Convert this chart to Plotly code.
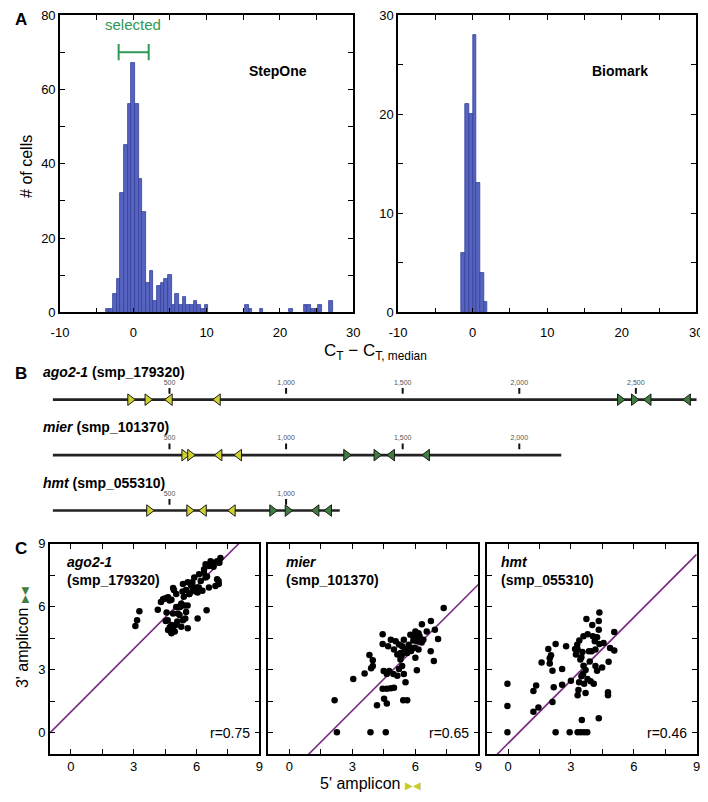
import plotly.graph_objects as go

W, H = 708, 802
OFF = 8  # page body margin compensation (px)
FONT = "Liberation Sans, Arial, Helvetica, sans-serif"

# ---------------- Panel A data ----------------
step_x = [-3.5, -3.0, -2.5, -2.0, -1.5, -1.0, -0.5, 0.0, 0.5, 1.0, 1.5, 2.0, 2.5, 3.0, 3.5,
          4.0, 4.5, 5.0, 5.5, 6.0, 6.5, 7.0, 7.5, 8.0, 8.5, 9.0, 9.5, 10.0,
          15.5, 16.0, 17.5, 21.5, 23.5, 24.0, 24.5, 25.0, 25.5, 27.0]
step_n = [1, 1, 5, 9, 32, 45, 56, 67, 56, 36, 27, 8, 11, 3, 7,
          8, 9, 10, 2, 5, 2, 4, 2, 2, 3, 2, 1, 2,
          2, 1, 1, 1, 2, 2, 1, 1, 2, 3]
bio_x = [-1.25, -0.75, -0.25, 0.25, 0.75, 1.25, 1.75]
bio_n = [6, 21, 20, 28, 13, 4, 1]
bin_width = 0.5
selected_range = [-2.0, 2.1]

# ---------------- Panel B data ----------------
genes = ["ago2-1", "mier", "hmt"]
gene_ids = ["smp_179320", "smp_101370", "smp_055310"]
gene_len = [2760, 2180, 1230]
fwd_yellow = [[332, 406], [564, 589], [413, 585]]
rev_yellow = [[501, 707], [714, 798], [647, 771]]
fwd_green = [[2432, 2492], [1258, 1388], [941, 1007]]
rev_green = [[2554, 2723], [1454, 1604], [1130, 1184]]
scale_step = 500

# ---------------- Panel C data ----------------
ago_x = [3.08, 3.16, 3.27, 4.15, 4.30, 4.46, 4.64, 4.80, 4.92, 4.88, 5.03, 4.57, 4.62, 4.53,
         4.72, 4.88, 4.80, 4.96, 5.08, 5.19, 4.88, 5.03, 5.27, 5.42, 5.39, 5.50, 5.35, 5.58,
         5.74, 5.66, 5.81, 5.97, 5.89, 6.12, 6.20, 6.36, 6.43, 6.59, 6.67, 6.82, 6.98, 7.14,
         6.98, 7.06, 6.90, 6.59, 6.43, 6.28, 6.05, 6.48, 6.05, 5.58, 5.35, 5.27, 5.50, 5.11,
         4.64, 4.80, 4.71, 5.00, 5.33, 5.46, 5.57, 5.65, 5.80, 5.96, 6.11, 6.35, 6.50, 6.81,
         7.09, 7.05, 4.40, 4.56, 5.21]
ago_y = [5.09, 5.37, 5.79, 5.87, 6.23, 6.39, 6.46, 6.34, 6.81, 6.90, 6.62, 5.73, 5.37, 5.33,
         5.03, 4.90, 4.75, 4.83, 5.30, 5.61, 5.69, 6.00, 6.15, 6.07, 6.49, 6.81, 7.09, 7.17,
         7.01, 6.62, 6.77, 6.93, 7.40, 7.55, 7.24, 7.79, 8.03, 7.95, 8.18, 8.10, 8.18, 8.33,
         7.32, 7.09, 7.00, 6.93, 7.40, 6.77, 6.69, 5.84, 5.45, 4.98, 5.37, 5.06, 5.76, 5.69,
         4.90, 5.14, 6.31, 5.14, 6.73, 5.45, 6.07, 6.62, 7.17, 6.73, 6.93, 7.63, 7.45, 7.91,
         8.10, 7.24, 6.36, 6.42, 6.00]
mier_x = [7.35, 6.74, 6.31, 6.93, 7.08, 6.73, 6.88, 6.54, 6.38, 6.15, 6.00, 5.92, 6.07, 6.15,
          6.00, 6.07, 5.76, 5.68, 5.61, 5.45, 5.37, 5.29, 5.22, 5.14, 5.06, 4.98, 5.29, 5.37,
          5.22, 5.45, 5.53, 5.14, 4.95, 4.75, 4.64, 4.49, 4.44, 4.44, 4.70, 4.83, 3.81, 3.97,
          3.97, 3.89, 3.58, 3.04, 4.44, 4.64, 4.83, 4.98, 4.51, 4.64, 4.17, 5.42, 5.61, 2.15,
          2.26, 3.86, 4.59, 5.70, 5.90, 6.20, 6.30, 5.50, 5.80, 5.95, 5.35, 6.10]
mier_y = [5.95, 5.33, 5.17, 4.91, 4.47, 3.89, 3.43, 4.83, 4.44, 4.75, 4.83, 4.59, 4.36, 3.97,
          3.58, 2.99, 4.67, 4.20, 3.81, 4.44, 4.13, 3.81, 4.21, 3.74, 4.36, 3.97, 3.50, 3.19,
          3.04, 2.80, 2.41, 2.72, 2.80, 2.95, 2.80, 2.95, 4.70, 4.24, 4.13, 4.44, 3.71, 3.46,
          3.19, 3.08, 2.83, 2.57, 2.10, 2.10, 2.13, 2.15, 1.63, 1.40, 1.32, 1.56, 1.56, 1.56,
          0.03, 0.03, 0.03, 4.10, 4.40, 4.60, 4.30, 4.00, 3.90, 4.05, 3.70, 4.55]
hmt_x = [4.36, 3.74, 4.33, 4.02, 4.33, 5.07, 4.05, 4.25, 4.14, 4.36, 2.27, 2.77, 1.92, 3.32,
         4.56, 4.17, 4.87, 5.07, 3.86, 3.24, 3.99, 1.99, 1.60, 1.99, 2.12, 2.58, 4.17, 4.49,
         4.80, 4.25, 3.58, 3.79, 3.94, 4.09, 3.63, 3.39, 3.00, 2.58, 2.18, 1.34, 1.21, -0.03,
         3.36, 3.70, 3.32, 4.77, 4.77, -0.03, 1.45, 1.21, 2.12, 3.52, 4.33, -0.03, 2.27, 2.94,
         3.32, 3.47, 3.63, 3.78, 3.30, 3.40, 3.60, 3.80, 3.50, 3.60, 3.70, 3.90, 3.20, 3.50,
         2.05, 3.45, 3.55]
hmt_y = [5.73, 5.42, 5.33, 5.14, 4.91, 4.80, 4.60, 4.56, 4.36, 4.24, 4.24, 4.13, 4.00, 3.97,
         4.28, 3.97, 4.04, 3.92, 3.89, 3.74, 3.89, 3.55, 3.35, 3.30, 2.96, 3.04, 3.19, 3.12,
         3.39, 2.96, 2.80, 2.57, 2.46, 2.34, 2.34, 2.41, 2.49, 2.29, 2.18, 2.26, 2.00, 2.34,
         2.04, 1.90, 1.79, 1.94, 1.79, 1.28, 1.21, 1.01, 1.47, 0.62, 0.70, 0.03, 0.03, 0.03,
         0.03, 0.03, 0.03, 0.03, 4.20, 4.40, 4.60, 4.70, 3.60, 3.20, 3.00, 3.40, 4.00, 2.70,
         3.70, 3.50, 3.85]
fit_intercept = [1.0, -1.93, -0.5]
r_values = ["r=0.75", "r=0.65", "r=0.46"]
scatter_ticks = [0, 1.5, 3, 4.5, 6, 7.5, 9]
scatter_ticktext = ["0", "", "3", "", "6", "", "9"]


def px_x(a, b):
    return [(a - OFF) / W, (b - OFF) / W]


def px_y(top, bottom):
    return [1 - (bottom - OFF) / H, 1 - (top - OFF) / H]


def pap_x(p):
    return (p - OFF) / W


def pap_y(p):
    return 1 - (p - OFF) / H


fig = go.Figure()

bar_fill = "#5664c0"
bar_line = "#33409a"
fig.add_trace(go.Bar(x=step_x, y=step_n, width=bin_width, marker=dict(color=bar_fill, line=dict(color=bar_line, width=0.8)),
                     xaxis="x", yaxis="y", showlegend=False))
fig.add_trace(go.Bar(x=bio_x, y=bio_n, width=bin_width, marker=dict(color=bar_fill, line=dict(color=bar_line, width=0.8)),
                     xaxis="x2", yaxis="y2", showlegend=False))

# selected bracket
green_sel = "#2e9a55"
sel_y = 70
fig.add_trace(go.Scatter(x=[selected_range[0], selected_range[1], None, selected_range[0], selected_range[0], None,
                            selected_range[1], selected_range[1]],
                         y=[sel_y, sel_y, None, sel_y - 2.2, sel_y + 2.2, None, sel_y - 2.2, sel_y + 2.2],
                         mode="lines", line=dict(color=green_sel, width=2), xaxis="x", yaxis="y",
                         showlegend=False, hoverinfo="skip"))

# ---------------- Panel B traces ----------------
rows = list(range(len(genes)))
line_x, line_y = [], []
tick_x, tick_y, lab_x, lab_y, lab_t = [], [], [], [], []
for r, L in zip(rows, gene_len):
    line_x += [0, L, None]
    line_y += [r, r, None]
    v = scale_step
    while v < L:
        tick_x += [v, v, None]
        tick_y += [r - 0.105, r - 0.21, None]
        lab_x.append(v)
        lab_y.append(r - 0.30)
        lab_t.append(f"{v:,}")
        v += scale_step
fig.add_trace(go.Scatter(x=line_x, y=line_y, mode="lines", line=dict(color="#222222", width=2.6),
                         xaxis="x3", yaxis="y3", showlegend=False, hoverinfo="skip"))
fig.add_trace(go.Scatter(x=tick_x, y=tick_y, mode="lines", line=dict(color="#111111", width=2),
                         xaxis="x3", yaxis="y3", showlegend=False, hoverinfo="skip"))
fig.add_trace(go.Scatter(x=lab_x, y=lab_y, mode="text", text=lab_t,
                         textfont=dict(size=7, color="#555555", family=FONT),
                         xaxis="x3", yaxis="y3", showlegend=False, hoverinfo="skip"))

yellow = "#cfd12c"
green = "#3f7d3f"


def add_arrows(pos_lists, symbol, color):
    xs, ys = [], []
    for r, pl in zip(rows, pos_lists):
        xs += pl
        ys += [r] * len(pl)
    fig.add_trace(go.Scatter(x=xs, y=ys, mode="markers",
                             marker=dict(symbol=symbol, size=10, color=color, line=dict(color="#1a1a1a", width=1)),
                             xaxis="x3", yaxis="y3", showlegend=False, hoverinfo="skip"))


add_arrows(fwd_yellow, "triangle-right", yellow)
add_arrows(rev_yellow, "triangle-left", yellow)
add_arrows(fwd_green, "triangle-right", green)
add_arrows(rev_green, "triangle-left", green)

# ---------------- Panel C traces ----------------
sc_data = [(ago_x, ago_y), (mier_x, mier_y), (hmt_x, hmt_y)]
for i, ((xs, ys), b) in enumerate(zip(sc_data, fit_intercept)):
    ax = str(4 + i)
    fig.add_trace(go.Scatter(x=[-1, 9], y=[-1 + b, 9 + b], mode="lines", line=dict(color="#7b2c84", width=1.6),
                             xaxis="x" + ax, yaxis="y" + ax, showlegend=False, hoverinfo="skip"))
    fig.add_trace(go.Scatter(x=xs, y=ys, mode="markers", marker=dict(color="black", size=6.5),
                             xaxis="x" + ax, yaxis="y" + ax, showlegend=False))

# ---------------- Axes ----------------
axis_common = dict(showline=True, linecolor="black", linewidth=1.6, mirror="ticks", ticks="inside",
                   ticklen=5, tickwidth=1.3, tickcolor="black", showgrid=False, zeroline=False,
                   ticklabeloverflow="allow",
                   tickfont=dict(family=FONT, size=13, color="black"))

hx_vals = list(range(-10, 31, 5))
hx_text = [str(v) if v % 10 == 0 else "" for v in hx_vals]

gx0, gscale = 44.7, 0.2386  # gene-map origin pixel and px per nt
layout = dict(
    width=W, height=H, margin=dict(l=0, r=0, t=0, b=0), plot_bgcolor="white", paper_bgcolor="white",
    bargap=0, font=dict(family=FONT, color="black"),
    xaxis=dict(domain=px_x(52, 352), range=[-10, 30], tickvals=hx_vals, ticktext=hx_text, anchor="y",
               ticklabelstandoff=7, **axis_common),
    yaxis=dict(domain=px_y(8, 311), range=[0, 80], tickvals=list(range(0, 81, 10)),
               ticktext=[str(v) if v % 20 == 0 else "" for v in range(0, 81, 10)], anchor="x", **axis_common),
    xaxis2=dict(domain=px_x(398, 703), range=[-10, 30], tickvals=hx_vals, ticktext=hx_text, anchor="y2",
                ticklabelstandoff=7, **axis_common),
    yaxis2=dict(domain=px_y(8, 311), range=[0, 30], tickvals=list(range(0, 31, 5)),
                ticktext=[str(v) if v % 10 == 0 else "" for v in range(0, 31, 5)], anchor="x2", **axis_common),
    xaxis3=dict(domain=[0, 1], range=[(OFF - gx0) / gscale, (W + OFF - gx0) / gscale], visible=False, anchor="y3"),
    yaxis3=dict(domain=px_y(360, 525), range=[(525 - 400) / 56.5, -(400 - 360) / 56.5], visible=False, anchor="x3"),
)
sc_dom = [(41.7, 256), (265.3, 480), (489, 703.3)]
for i, (a, b) in enumerate(sc_dom):
    n = str(4 + i)
    layout["xaxis" + n] = dict(domain=px_x(a, b), range=[-1, 9], tickvals=scatter_ticks, ticktext=scatter_ticktext,
                               anchor="y" + n, **axis_common)
    layout["yaxis" + n] = dict(domain=px_y(547, 761), range=[-1, 9], tickvals=scatter_ticks,
                               ticktext=scatter_ticktext, showticklabels=(i == 0), anchor="x" + n, **axis_common)
fig.update_layout(**layout)

ann = []
# panel letters
for letter, (x, y) in zip(["A", "B", "C"], [(12, 13), (12, 373), (12, 552)]):
    ann.append(dict(text=f"<b>{letter}</b>", x=pap_x(x), y=pap_y(y), xref="paper", yref="paper",
                    showarrow=False, font=dict(size=17, family=FONT), xanchor="center", yanchor="middle"))
# hist titles
ann.append(dict(text="# of cells", x=pap_x(17), y=pap_y(162), xref="paper", yref="paper", textangle=-90,
                showarrow=False, font=dict(size=16, family=FONT), xanchor="center", yanchor="middle"))
ann.append(dict(text="C<sub>T</sub> − C<sub>T, median</sub>", x=pap_x(375), y=pap_y(351), xref="paper", yref="paper",
                showarrow=False, font=dict(size=17, family=FONT), xanchor="center", yanchor="middle"))
ann.append(dict(text="selected", x=0.0, y=77.5, xref="x", yref="y", showarrow=False,
                font=dict(size=15, family=FONT, color=green_sel), xanchor="center", yanchor="middle"))
ann.append(dict(text="<b>StepOne</b>", x=19.7, y=65, xref="x", yref="y", showarrow=False,
                font=dict(size=14, family=FONT), xanchor="center", yanchor="middle"))
ann.append(dict(text="<b>Biomark</b>", x=19.7, y=24.4, xref="x2", yref="y2", showarrow=False,
                font=dict(size=14, family=FONT), xanchor="center", yanchor="middle"))
# gene names
for r, (g, gid) in enumerate(zip(genes, gene_ids)):
    ann.append(dict(text=f"<b><i>{g}</i> ({gid})</b>", x=pap_x(33), y=r - 0.5, xref="paper", yref="y3",
                    showarrow=False, font=dict(size=14, family=FONT), xanchor="left", yanchor="middle"))
# scatter labels
gx = [-0.28, -0.28, -0.45]
for i, (g, gid) in enumerate(zip(genes, gene_ids)):
    n = str(4 + i)
    ann.append(dict(text=f"<b><i>{g}</i><br>({gid})</b>", x=gx[i], y=8.62, xref="x" + n, yref="y" + n,
                    showarrow=False, font=dict(size=14, family=FONT), xanchor="left", yanchor="top", align="left"))
    ann.append(dict(text=r_values[i], x=8.65, y=0, xref="x" + n, yref="y" + n, showarrow=False,
                    font=dict(size=14, family=FONT), xanchor="right", yanchor="middle"))
ann.append(dict(text="3' amplicon <span style='color:#3f7d3f;font-size:10px'>▶◀</span>", x=pap_x(13), y=pap_y(642),
                xref="paper", yref="paper", textangle=-90, showarrow=False, font=dict(size=16, family=FONT),
                xanchor="center", yanchor="middle"))
ann.append(dict(text="5' amplicon <span style='color:#c9cb20;font-size:10px'>▶◀</span>", x=pap_x(370), y=pap_y(791),
                xref="paper", yref="paper", showarrow=False, font=dict(size=16, family=FONT),
                xanchor="center", yanchor="middle"))
fig.update_layout(annotations=ann)

fig.write_html("out.html")
